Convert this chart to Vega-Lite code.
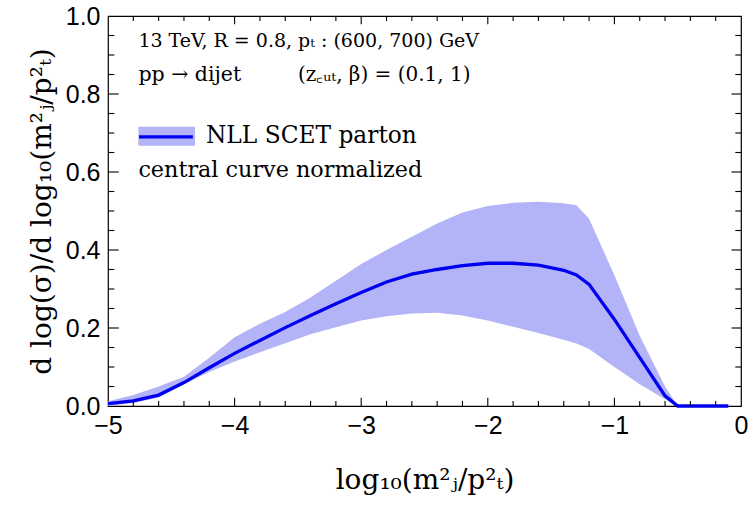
{
  "$schema": "https://vega.github.io/schema/vega-lite/v6.json",
  "width": 633,
  "height": 390,
  "autosize": {"type": "none"},
  "padding": {"left": 108, "top": 16, "right": 9, "bottom": 105},
  "background": "white",
  "config": {
    "view": {"stroke": "black", "strokeWidth": 1.2},
    "axis": {"grid": false, "domain": false, "labelColor": "black", "titleColor": "black"}
  },
  "datasets": {
    "curve": [
      {"x": -5.0, "lo": 0.0, "mid": 0.006, "hi": 0.012},
      {"x": -4.8, "lo": 0.008, "mid": 0.013, "hi": 0.028},
      {"x": -4.6, "lo": 0.022, "mid": 0.028, "hi": 0.05},
      {"x": -4.4, "lo": 0.056, "mid": 0.06, "hi": 0.075},
      {"x": -4.2, "lo": 0.087, "mid": 0.098, "hi": 0.124},
      {"x": -4.0, "lo": 0.114, "mid": 0.135, "hi": 0.176},
      {"x": -3.8, "lo": 0.138, "mid": 0.168, "hi": 0.211},
      {"x": -3.6, "lo": 0.161, "mid": 0.201, "hi": 0.241},
      {"x": -3.4, "lo": 0.184, "mid": 0.232, "hi": 0.278},
      {"x": -3.2, "lo": 0.202, "mid": 0.262, "hi": 0.321},
      {"x": -3.0, "lo": 0.219, "mid": 0.291, "hi": 0.364},
      {"x": -2.8, "lo": 0.23, "mid": 0.318, "hi": 0.4},
      {"x": -2.6, "lo": 0.237, "mid": 0.338, "hi": 0.434},
      {"x": -2.4, "lo": 0.239, "mid": 0.35, "hi": 0.468},
      {"x": -2.2, "lo": 0.232, "mid": 0.36, "hi": 0.496},
      {"x": -2.0, "lo": 0.219, "mid": 0.366, "hi": 0.513},
      {"x": -1.8, "lo": 0.203, "mid": 0.366, "hi": 0.521},
      {"x": -1.6, "lo": 0.187, "mid": 0.361, "hi": 0.524},
      {"x": -1.4, "lo": 0.17, "mid": 0.348, "hi": 0.52},
      {"x": -1.3, "lo": 0.16, "mid": 0.336, "hi": 0.515},
      {"x": -1.2, "lo": 0.146, "mid": 0.312, "hi": 0.48},
      {"x": -1.0, "lo": 0.1, "mid": 0.222, "hi": 0.335},
      {"x": -0.8, "lo": 0.056, "mid": 0.124, "hi": 0.18},
      {"x": -0.6, "lo": 0.017, "mid": 0.026, "hi": 0.05},
      {"x": -0.5, "lo": 0.0, "mid": 0.0, "hi": 0.0},
      {"x": -0.4, "lo": 0.0, "mid": 0.0, "hi": 0.0},
      {"x": -0.2, "lo": 0.0, "mid": 0.0, "hi": 0.0},
      {"x": -0.1, "lo": 0.0, "mid": 0.0, "hi": 0.0}
    ]
  },
  "layer": [
    {
      "data": {"name": "curve"},
      "mark": {"type": "area", "color": "#b3b3f8", "opacity": 1},
      "encoding": {
        "x": {"field": "x", "type": "quantitative", "scale": {"domain": [-5, 0], "nice": false, "zero": false},
          "axis": {"orient": "bottom", "values": [-5, -4, -3, -2, -1, 0], "format": "d", "ticks": false, "tickSize": 0,
            "labelFont": "Liberation Sans", "labelFontSize": 25, "labelPadding": 7, "labelFlush": false, "labelOverlap": false,
            "title": "log₁₀(m²ⱼ/p²ₜ)", "titleFont": "DejaVu Serif", "titleFontSize": 28, "titleFontWeight": "normal", "titlePadding": 28}},
        "y": {"field": "lo", "type": "quantitative", "scale": {"domain": [0, 1], "nice": false},
          "axis": {"orient": "left", "values": [0, 0.2, 0.4, 0.6, 0.8, 1.0], "format": ".1f", "ticks": false, "tickSize": 0,
            "labelFont": "Liberation Sans", "labelFontSize": 25, "labelPadding": 8, "labelFlush": false, "labelOverlap": false,
            "title": "d log(σ)/d log₁₀(m²ⱼ/p²ₜ)", "titleFont": "DejaVu Serif", "titleFontSize": 28, "titleFontWeight": "normal", "titlePadding": 9}},
        "y2": {"field": "hi"}
      }
    },
    {
      "data": {"name": "curve"},
      "mark": {"type": "line", "color": "#0000f0", "strokeWidth": 3.3},
      "encoding": {
        "x": {"field": "x", "type": "quantitative"},
        "y": {"field": "mid", "type": "quantitative"}
      }
    },
    {
      "data": {"values": [{"tx": -4}, {"tx": -3}, {"tx": -2}, {"tx": -1}]},
      "mark": {"type": "rule", "color": "black", "strokeWidth": 1.1},
      "encoding": {"x": {"field": "tx", "type": "quantitative"}, "y": {"datum": 0, "type": "quantitative"}, "y2": {"datum": 0.021}}
    },
    {
      "data": {"values": [{"tx": -4}, {"tx": -3}, {"tx": -2}, {"tx": -1}]},
      "mark": {"type": "rule", "color": "black", "strokeWidth": 1.1},
      "encoding": {"x": {"field": "tx", "type": "quantitative"}, "y": {"datum": 1, "type": "quantitative"}, "y2": {"datum": 0.979}}
    },
    {
      "data": {"values": [{"tx": -4.8}, {"tx": -4.6}, {"tx": -4.4}, {"tx": -4.2}, {"tx": -3.8}, {"tx": -3.6}, {"tx": -3.4}, {"tx": -3.2}, {"tx": -2.8}, {"tx": -2.6}, {"tx": -2.4}, {"tx": -2.2}, {"tx": -1.8}, {"tx": -1.6}, {"tx": -1.4}, {"tx": -1.2}, {"tx": -0.8}, {"tx": -0.6}, {"tx": -0.4}, {"tx": -0.2}]},
      "mark": {"type": "rule", "color": "black", "strokeWidth": 1.1},
      "encoding": {"x": {"field": "tx", "type": "quantitative"}, "y": {"datum": 0, "type": "quantitative"}, "y2": {"datum": 0.013}}
    },
    {
      "data": {"values": [{"tx": -4.8}, {"tx": -4.6}, {"tx": -4.4}, {"tx": -4.2}, {"tx": -3.8}, {"tx": -3.6}, {"tx": -3.4}, {"tx": -3.2}, {"tx": -2.8}, {"tx": -2.6}, {"tx": -2.4}, {"tx": -2.2}, {"tx": -1.8}, {"tx": -1.6}, {"tx": -1.4}, {"tx": -1.2}, {"tx": -0.8}, {"tx": -0.6}, {"tx": -0.4}, {"tx": -0.2}]},
      "mark": {"type": "rule", "color": "black", "strokeWidth": 1.1},
      "encoding": {"x": {"field": "tx", "type": "quantitative"}, "y": {"datum": 1, "type": "quantitative"}, "y2": {"datum": 0.987}}
    },
    {
      "data": {"values": [{"ty": 0.2}, {"ty": 0.4}, {"ty": 0.6}, {"ty": 0.8}]},
      "mark": {"type": "rule", "color": "black", "strokeWidth": 1.1},
      "encoding": {"y": {"field": "ty", "type": "quantitative"}, "x": {"datum": -5, "type": "quantitative"}, "x2": {"datum": -4.915}}
    },
    {
      "data": {"values": [{"ty": 0.2}, {"ty": 0.4}, {"ty": 0.6}, {"ty": 0.8}]},
      "mark": {"type": "rule", "color": "black", "strokeWidth": 1.1},
      "encoding": {"y": {"field": "ty", "type": "quantitative"}, "x": {"datum": 0, "type": "quantitative"}, "x2": {"datum": -0.075}}
    },
    {
      "data": {"values": [{"ty": 0.05}, {"ty": 0.1}, {"ty": 0.15}, {"ty": 0.25}, {"ty": 0.3}, {"ty": 0.35}, {"ty": 0.45}, {"ty": 0.5}, {"ty": 0.55}, {"ty": 0.65}, {"ty": 0.7}, {"ty": 0.75}, {"ty": 0.85}, {"ty": 0.9}, {"ty": 0.95}]},
      "mark": {"type": "rule", "color": "black", "strokeWidth": 1.1},
      "encoding": {"y": {"field": "ty", "type": "quantitative"}, "x": {"datum": -5, "type": "quantitative"}, "x2": {"datum": -4.95}}
    },
    {
      "data": {"values": [{"ty": 0.05}, {"ty": 0.1}, {"ty": 0.15}, {"ty": 0.25}, {"ty": 0.3}, {"ty": 0.35}, {"ty": 0.45}, {"ty": 0.5}, {"ty": 0.55}, {"ty": 0.65}, {"ty": 0.7}, {"ty": 0.75}, {"ty": 0.85}, {"ty": 0.9}, {"ty": 0.95}]},
      "mark": {"type": "rule", "color": "black", "strokeWidth": 1.1},
      "encoding": {"y": {"field": "ty", "type": "quantitative"}, "x": {"datum": 0, "type": "quantitative"}, "x2": {"datum": -0.045}}
    },
    {
      "data": {"values": [{}]},
      "mark": {"type": "rect", "color": "#b3b3f8"},
      "encoding": {
        "x": {"datum": -4.76, "type": "quantitative"},
        "x2": {"datum": -4.313},
        "y": {"datum": 0.716, "type": "quantitative"},
        "y2": {"datum": 0.667}
      }
    },
    {
      "data": {"values": [{}]},
      "mark": {"type": "rule", "color": "#0000f0", "strokeWidth": 3.3},
      "encoding": {
        "x": {"datum": -4.755, "type": "quantitative"},
        "x2": {"datum": -4.33},
        "y": {"datum": 0.69, "type": "quantitative"}
      }
    },
    {
      "data": {"values": [{}]},
      "mark": {"type": "text", "text": "13  TeV, R = 0.8,  pₜ : (600, 700) GeV", "align": "left", "baseline": "alphabetic", "font": "DejaVu Serif", "fontSize": 19, "color": "black"},
      "encoding": {
        "x": {"datum": -4.76, "type": "quantitative"},
        "y": {"datum": 0.921, "type": "quantitative"}
      }
    },
    {
      "data": {"values": [{}]},
      "mark": {"type": "text", "text": "pp → dijet", "align": "left", "baseline": "alphabetic", "font": "DejaVu Serif", "fontSize": 20.5, "color": "black"},
      "encoding": {
        "x": {"datum": -4.76, "type": "quantitative"},
        "y": {"datum": 0.833, "type": "quantitative"}
      }
    },
    {
      "data": {"values": [{}]},
      "mark": {"type": "text", "text": "(z꜀ᵤₜ, β) = (0.1, 1)", "align": "left", "baseline": "alphabetic", "font": "DejaVu Serif", "fontSize": 20, "color": "black"},
      "encoding": {
        "x": {"datum": -3.5, "type": "quantitative"},
        "y": {"datum": 0.833, "type": "quantitative"}
      }
    },
    {
      "data": {"values": [{}]},
      "mark": {"type": "text", "text": "NLL SCET parton", "align": "left", "baseline": "alphabetic", "font": "DejaVu Serif", "fontSize": 23.3, "color": "black"},
      "encoding": {
        "x": {"datum": -4.226, "type": "quantitative"},
        "y": {"datum": 0.675, "type": "quantitative"}
      }
    },
    {
      "data": {"values": [{}]},
      "mark": {"type": "text", "text": "central curve normalized", "align": "left", "baseline": "alphabetic", "font": "DejaVu Serif", "fontSize": 22.3, "color": "black"},
      "encoding": {
        "x": {"datum": -4.76, "type": "quantitative"},
        "y": {"datum": 0.588, "type": "quantitative"}
      }
    }
  ]
}
